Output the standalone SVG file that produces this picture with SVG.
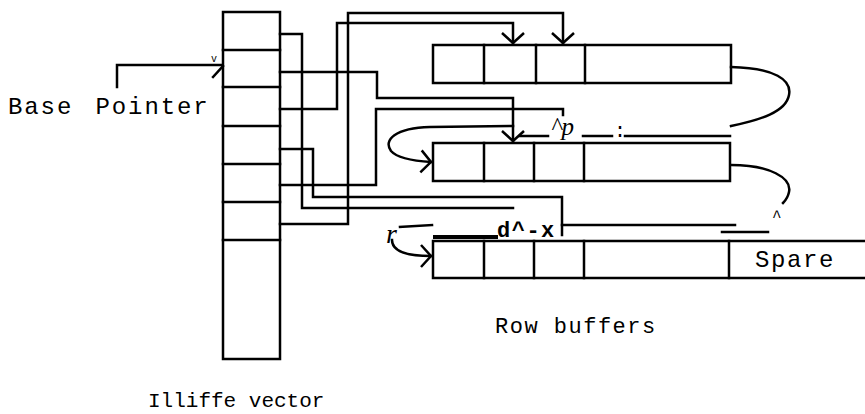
<svg xmlns="http://www.w3.org/2000/svg" width="865" height="414" viewBox="0 0 865 414">
<style>
.box{fill:#fff;stroke:#000;stroke-width:2.5}
.ln{fill:none;stroke:#000;stroke-width:2.5;stroke-linejoin:miter;stroke-linecap:square}
.mono{font-family:"Liberation Mono","DejaVu Sans Mono",monospace;fill:#000}
.ser{font-family:"Liberation Serif","DejaVu Serif",serif;font-style:italic;fill:#000}
</style>
<defs>
<marker id="ah" markerUnits="userSpaceOnUse" markerWidth="26" markerHeight="26" viewBox="-13 -13 26 26" refX="0" refY="0" orient="auto">
<path d="M-10,-11 L0,0 L-10,11" fill="none" stroke="#000" stroke-width="2.5"/>
</marker>
</defs>
<rect width="865" height="414" fill="#fff"/>

<g id="iliffe-vector">
<rect class="box" x="223" y="12" width="57" height="347"/>
<path class="ln" d="M223,50H280M223,87H280M223,126H280M223,164H280M223,202H280M223,240H280"/>
</g>

<g id="row-buffer-1">
<rect class="box" x="433" y="45" width="298" height="38"/>
<path class="ln" d="M484,45V83M536,45V83M585,45V83"/>
</g>

<g id="row-buffer-2">
<rect class="box" x="433" y="143" width="297" height="38"/>
<path class="ln" d="M484,143V181M534,143V181M584,143V181"/>
</g>

<g id="row-buffer-3">
<path class="ln" d="M870,241H433V278H870"/>
<path class="ln" d="M484,241V278M534,241V278M584,241V278M729,241V278"/>
<text class="mono" x="755" y="267" font-size="24" letter-spacing="1.6">Spare</text>
</g>

<g id="connectors">
<path class="ln" d="M117,87V65H222"/>
<path class="ln" d="M213,77L223,66"/>
<text class="mono" x="211" y="62" font-size="10">v</text>
<path class="ln" d="M280,34H302V208H513"/>
<path class="ln" d="M280,72H377V98H513V141" marker-end="url(#ah)"/>
<path class="ln" d="M280,109H337V23H513V43" marker-end="url(#ah)"/>
<path class="ln" d="M280,149H313V197H562V235"/>
<path class="ln" d="M280,185H376V109H563V115"/>
<path class="ln" d="M280,224H348V13H563V43" marker-end="url(#ah)"/>
<path class="ln" d="M731,67C775,68 792,80 789,95C786,112 760,120 731,126"/>
<path class="ln" d="M731,165C770,165 792,178 789,192C788,197 786,200 783,203"/>
<path class="ln" d="M513,126L430,127C395,128 383,140 391,151C398,159 415,161 431,162" marker-end="url(#ah)"/>
<path class="ln" d="M432,225L400,227"/>
<path class="ln" d="M392,240C392,252 410,256 431,256" marker-end="url(#ah)"/>
<path class="ln" d="M520,136H548M583,136H612M625,136H730"/>
<path d="M433,237H498" stroke="#000" stroke-width="4" fill="none"/>
<path class="ln" d="M562,225H735"/>
<path class="ln" d="M722,232H768"/>
</g>

<g id="labels">
<text class="mono" x="8" y="114" font-size="24" letter-spacing="1.9" word-spacing="6">Base Pointer</text>
<text class="mono" x="148" y="407" font-size="21">Illiffe vector</text>
<text class="mono" x="495" y="333" font-size="22" letter-spacing="1.5">Row buffers</text>
<text class="ser" x="551" y="135" font-size="25">^p</text>
<text class="mono" x="614" y="137" font-size="20">:</text>
<text class="mono" x="497" y="237" font-size="22" font-weight="bold" letter-spacing="1.5">d^-x</text>
<text class="ser" x="386" y="243" font-size="28">r</text>
<text class="mono" x="772" y="222" font-size="16">^</text>
</g>
</svg>
